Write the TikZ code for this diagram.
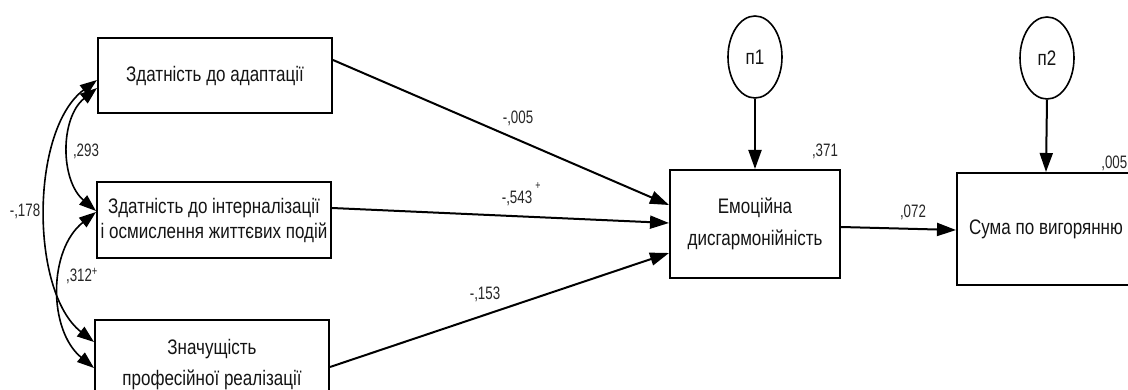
\documentclass[tikz,border=0pt]{standalone}
\usepackage{fontspec}
\setmainfont{Liberation Sans}[FakeStretch=0.81]
\newfontfamily\coeffont{Liberation Sans}[FakeStretch=0.74]
\usetikzlibrary{arrows.meta,shapes.geometric}

\tikzset{
  var/.style={draw, line width=2pt, rectangle, inner sep=0pt, align=center,
              font=\fontsize{21}{25}\selectfont, text=black!92},
  err/.style={draw, line width=1.6pt, ellipse, minimum width=54pt, minimum height=82pt,
              inner sep=0pt, font=\fontsize{21}{24}\selectfont, text=black!92},
  path/.style={line width=2pt, -{Triangle[length=19pt,width=13pt]}},
  cov/.style={line width=1.6pt, {Triangle[length=17pt,width=12pt]}-{Triangle[length=17pt,width=12pt]}},
  coef/.style={inner sep=0pt, font=\coeffont\fontsize{18}{20}\selectfont, text=black!85},
}

\begin{document}
\begin{tikzpicture}[x=1pt, y=-1pt]
\clip (0,0) rectangle (1128,390);
\fill[white] (0,0) rectangle (1128,390);

% observed variables
\node[var, minimum width=234pt, minimum height=75pt] (a) at (215,75.5) {Здатність до адаптації};
\node[var, minimum width=234pt, minimum height=76pt] (b) at (214,220)
  {Здатність до інтерналізації\\і осмислення життєвих подій};
\node[var, minimum width=234pt, minimum height=90pt, font=\fontsize{21}{31}\selectfont] (c) at (212,365)
  {Значущість\\професійної реалізації};
\node[var, minimum width=170pt, minimum height=108pt, font=\fontsize{21}{32}\selectfont] (d) at (755,224)
  {Емоційна\\дисгармонійність};
\node[var, minimum width=178pt, minimum height=112pt] (e) at (1046,229) {Сума по вигорянню};

% residual terms
\node[err] (n1) at (755,57) {п1};
\node[err] (n2) at (1047,58) {п2};

% structural paths
\draw[path] ([yshift=15.5pt]a.east) -- ([yshift=19pt]d.west);
\draw[path] ([yshift=12pt]b.east) -- ([yshift=1pt]d.west);
\draw[path] ([yshift=-2pt]c.east) -- ([yshift=-29pt]d.west);
\draw[path] ([yshift=-3pt]d.east) -- ([yshift=-1pt]e.west);
\draw[path] (n1.south) -- (d.north);
\draw[path] (n2.south) -- (e.north);

% covariances between the predictors
\draw[cov] ([yshift=-12.5pt]a.west) .. controls (60,118) and (60,180) .. ([yshift=9pt]b.west);
\draw[cov] ([yshift=8pt]b.west) .. controls (48,250) and (48,330) .. ([yshift=-3pt]c.west);
\draw[cov] ([yshift=-4.5pt]a.west) .. controls (30,130) and (30,292) .. ([yshift=23pt]c.west);

% coefficients
\node[coef] (k293) at (86,151) {,293};
\node[coef] (k178) at (25,211) {-,178};
\node[coef] (k312) at (82,276) {,312\textsuperscript{+}};
\node[coef] (k005a) at (518,118) {-,005};
\node[coef] (k543) at (517,198) {-,543};
\node[coef, font=\coeffont\fontsize{12}{12}\selectfont] (k543p) at (538,186) {+};
\node[coef] (k153) at (485,294) {-,153};
\node[coef] (k371) at (825,151) {,371};
\node[coef] (k072) at (913,212) {,072};
\node[coef, anchor=east] (k005b) at (1127.5,163) {,005};
\end{tikzpicture}
\end{document}
